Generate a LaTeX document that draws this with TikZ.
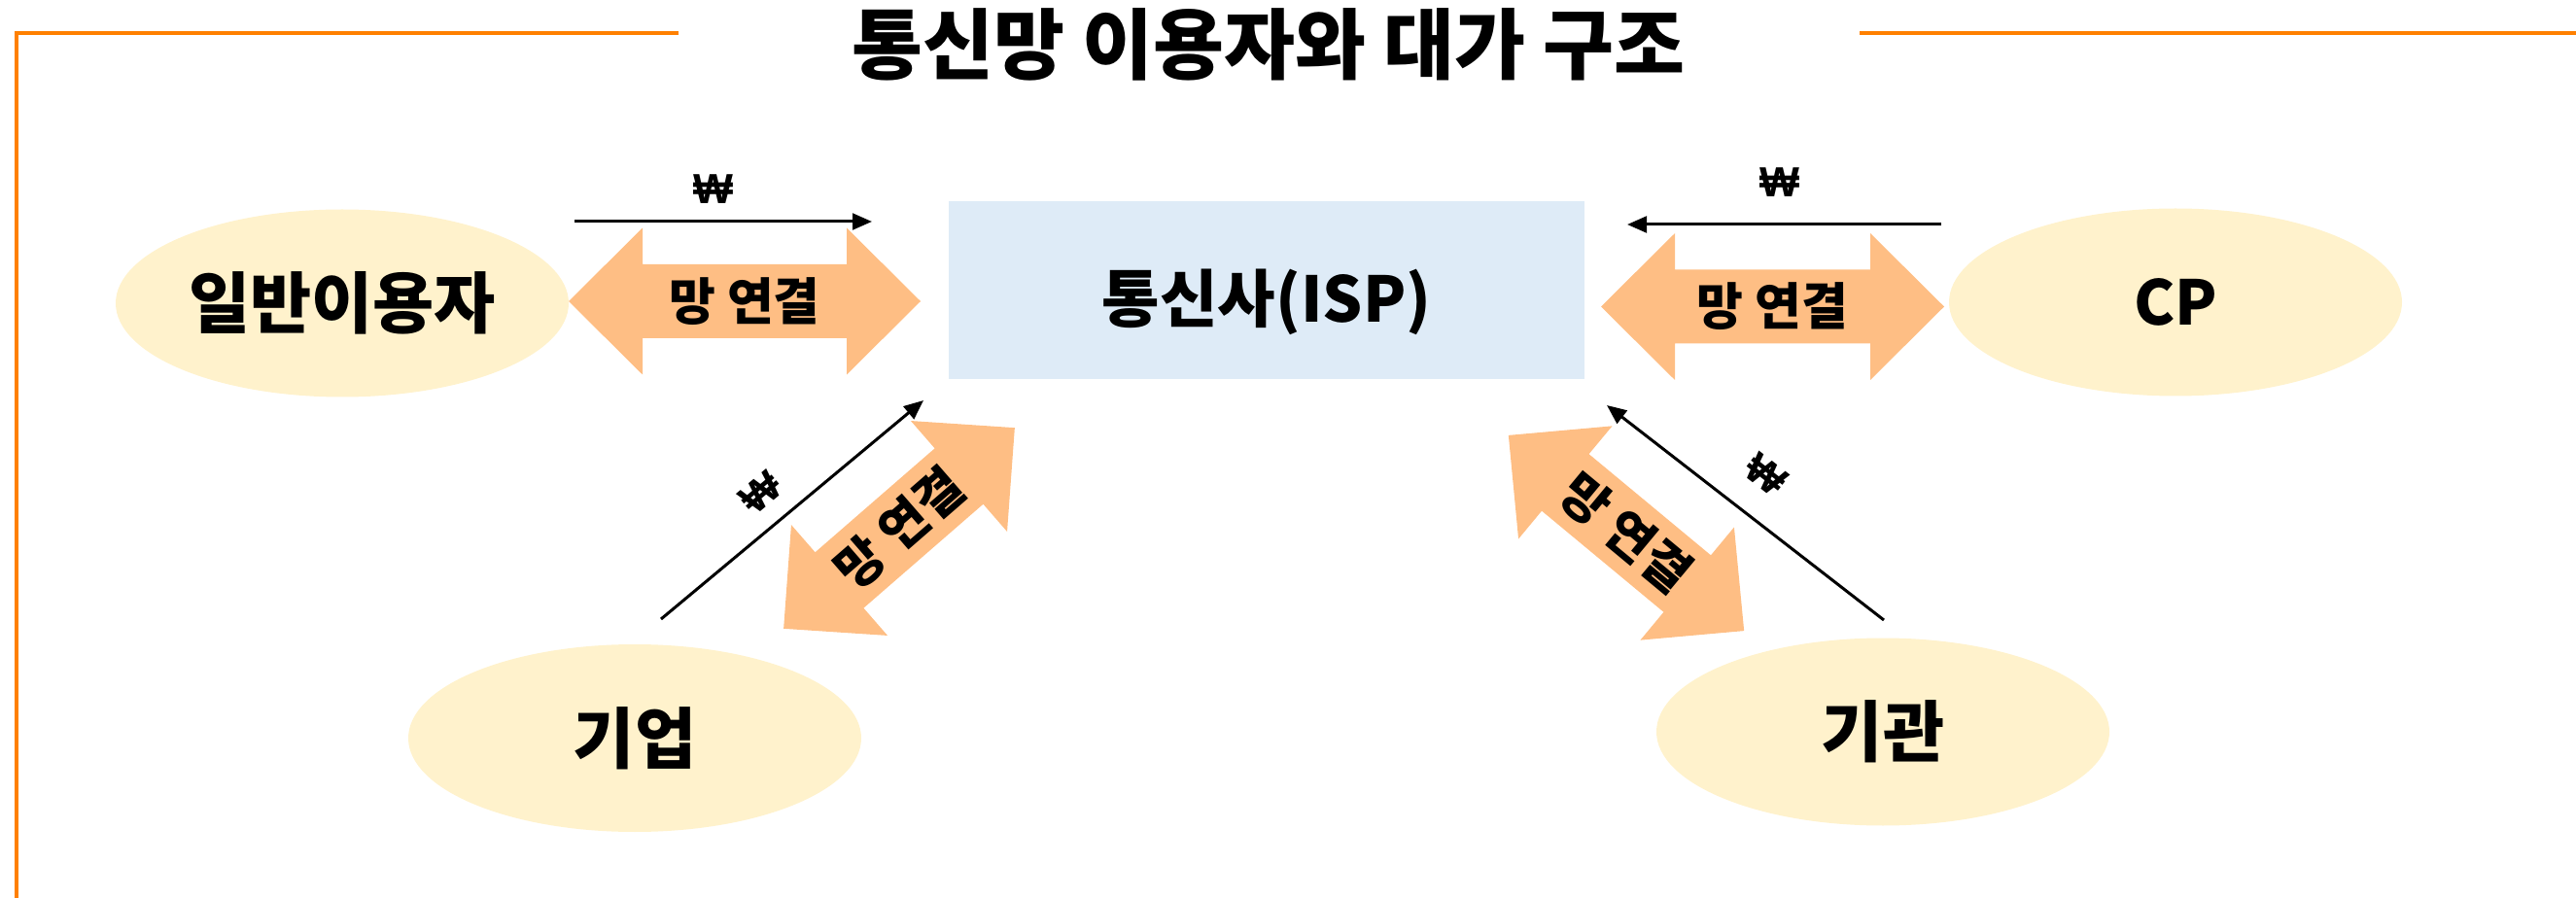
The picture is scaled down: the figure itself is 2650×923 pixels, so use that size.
\documentclass[tikz,border=0pt]{standalone}
\usepackage{fontspec}
\setmainfont{Noto Sans CJK KR}
\newfontfamily\wonfont{Liberation Sans}
\usetikzlibrary{arrows.meta,shapes.geometric}
\definecolor{frameor}{HTML}{FF8000}
\definecolor{ellfill}{HTML}{FFF2CC}
\definecolor{ispfill}{HTML}{DEEBF7}
\definecolor{arrfill}{HTML}{FEBE84}
\newcommand\dblarrow[3]{%
  \begin{scope}[shift={(#1)}, rotate=#2]
    \fill[arrfill] ({-#3},0) -- ({-#3+76},75.5) -- ({-#3+76},38) -- ({#3-76},38)
      -- ({#3-76},75.5) -- ({#3},0) -- ({#3-76},-75.5) -- ({#3-76},-38)
      -- ({-#3+76},-38) -- ({-#3+76},-75.5) -- cycle;
  \end{scope}}
\begin{document}
\begin{tikzpicture}[x=0.3pt,y=0.3pt,
  party/.style={ellipse, fill=ellfill, minimum width=139.8pt, minimum height=57.9pt,
    inner sep=0pt, font=\fontsize{20.6pt}{24pt}\selectfont\bfseries},
  ispbox/.style={rectangle, fill=ispfill, minimum width=196.2pt, minimum height=54.9pt, inner sep=0pt},
  bigtext/.style={font=\fontsize{19.4pt}{23pt}\selectfont\bfseries, inner sep=0pt},
  linklabel/.style={font=\fontsize{15.6pt}{18pt}\selectfont\bfseries, inner sep=0pt},
  won/.style={font=\wonfont\fontsize{13pt}{15pt}\selectfont\bfseries, inner sep=0pt},
  pay/.style={line width=0.9pt, -{Triangle[length=6pt,width=5pt]}},
  frame/.style={draw=frameor, line width=1.2pt}]
\useasboundingbox (0,0) rectangle (2650,923);
% frame
\draw[frame] (698,889) -- (17,889) -- (17,-5);
\draw[frame] (1913,889) -- (2655,889);
% title
\node[font=\fontsize{23.8pt}{28pt}\selectfont\bfseries, inner sep=0pt] (title) at (1305,877) {통신망 이용자와 대가 구조};
% ISP
\node[ispbox] (isp) at (1303,624.5) {};
\node[bigtext] (ispt) at (1303,612) {통신사(ISP)};
% parties
\node[party] (user) at (352,611) {일반이용자};
\node[party, font=\fontsize{19pt}{23pt}\selectfont\bfseries] (cp) at (2238,612) {CP};
\node[party] (corp) at (653,163.5) {기업};
\node[party] (inst) at (1937,170) {기관};
% double arrows (network connection)
\coordinate (cL) at (766,613);
\coordinate (cR) at (1823.5,607.5);
\coordinate (cLL) at (925,379.5);
\coordinate (cLR) at (1673,374.5);
\dblarrow{cL}{0}{181}
\dblarrow{cR}{0}{176.5}
\dblarrow{cLL}{41}{157.5}
\dblarrow{cLR}{-39.7}{157.5}
\node[linklabel] (tL) at (cL) {망 연결};
\node[linklabel] (tR) at (cR) {망 연결};
\node[linklabel, rotate=41] (tLL) at (cLL) {망 연결};
\node[linklabel, rotate=-39.7] (tLR) at (cLR) {망 연결};
% payment arrows
\coordinate (p1s) at (591,695);  \coordinate (p1e) at (897,695);
\coordinate (p2s) at (1997,692); \coordinate (p2e) at (1674,692);
\coordinate (p3s) at (680,286);  \coordinate (p3e) at (950,511);
\coordinate (p4s) at (1938,285); \coordinate (p4e) at (1653,506);
\draw[pay] (p1s) -- (p1e);
\draw[pay] (p2s) -- (p2e);
\draw[pay] (p3s) -- (p3e);
\draw[pay] (p4s) -- (p4e);
\node[won] (w1) at (734,728) {₩};
\node[won] (w2) at (1831,735) {₩};
\node[won, rotate=40] (w3) at (783,416) {₩};
\node[won, rotate=-37.8] (w4) at (1817,435) {₩};
\end{tikzpicture}
\end{document}
